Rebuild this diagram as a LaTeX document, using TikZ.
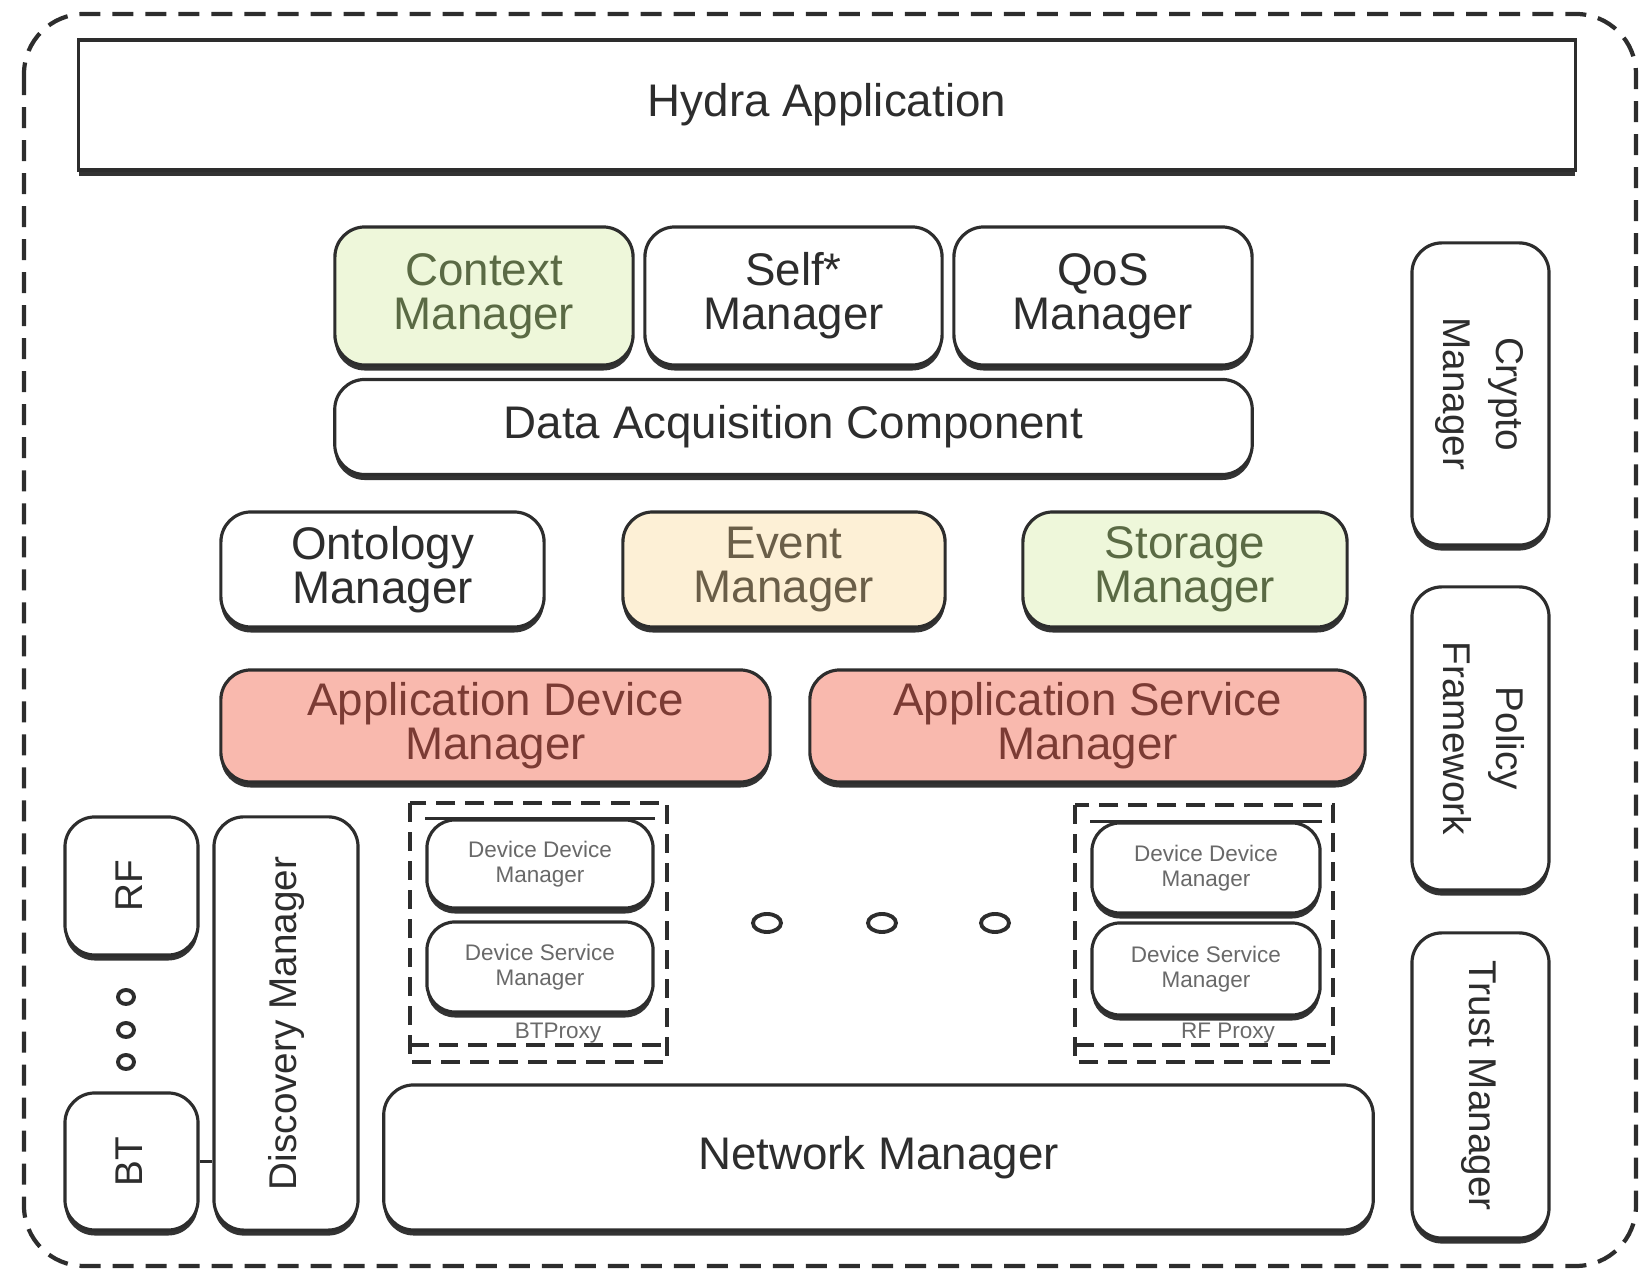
\documentclass[tikz,border=0pt]{standalone}
\usepackage{fontspec}
\setmainfont{Liberation Sans}
\usepackage{graphicx}
\usetikzlibrary{shadows}
\definecolor{ink}{RGB}{45,45,45}
\definecolor{ctxc}{RGB}{238,247,218}
\definecolor{ctxt}{RGB}{90,106,68}
\definecolor{evtc}{RGB}{253,240,214}
\definecolor{evtt}{RGB}{106,94,72}
\definecolor{appc}{RGB}{249,185,174}
\definecolor{appt}{RGB}{123,59,52}
\definecolor{pxt}{RGB}{105,105,105}
\tikzset{
  mgr/.style={draw=ink, line width=0.9pt, rounded corners=0.3cm, fill=white,
              text=ink, align=center, inner sep=1pt,
              font=\fontsize{13}{12.5}\selectfont,
              drop shadow={shadow xshift=0cm, shadow yshift=-0.055cm,
                           fill=black!80, opacity=1}},
  vmgr/.style={mgr, font=\fontsize{11}{15}\selectfont},
  small/.style={mgr, rounded corners=0.28cm, text=pxt,
                font=\fontsize{6.4}{7}\selectfont},
  ctxbox/.style={fill=ctxc, text=ctxt},
  evtbox/.style={fill=evtc, text=evtt},
  appbox/.style={fill=appc, text=appt},
  frame/.style={draw=ink, line width=1.2pt, dash pattern=on 0.21cm off 0.12cm,
                rounded corners=0.6cm},
  pxframe/.style={draw=ink, line width=1.4pt, dash pattern=on 0.19cm off 0.1cm},
  pxlbl/.style={text=pxt, font=\fontsize{6.4}{7}\selectfont, inner sep=0pt},
  dot/.style={draw=ink, line width=1.1pt},
}
\newcommand{\vtext}[2]{\rotatebox{#1}{\begin{tabular}{@{}c@{}}#2\end{tabular}}}

\begin{document}
\begin{tikzpicture}[x=0.01cm, y=-0.01cm]
  \useasboundingbox (0,0) rectangle (1650,1271);
  \draw[frame] (24,14) rectangle (1636,1266);

  \node[mgr, rounded corners=0pt, minimum width=14.96cm, minimum height=1.30cm]
    (hydra) at (827,105) {Hydra Application};

  % upper managers
  \node[mgr, ctxbox, minimum width=2.98cm, minimum height=1.38cm] (ctx) at (484,296)
    {Context\\Manager};
  \node[mgr, minimum width=2.97cm, minimum height=1.38cm] (self) at (793.5,296)
    {Self*\\Manager};
  \node[mgr, minimum width=2.98cm, minimum height=1.38cm] (qos) at (1103,296)
    {QoS\\Manager};
  \node[mgr, minimum width=9.17cm, minimum height=0.95cm] (daq) at (793.5,427)
    {Data Acquisition Component};

  % middle row
  \node[mgr, minimum width=3.23cm, minimum height=1.15cm] (onto) at (382.5,569.5)
    {Ontology\\Manager};
  \node[mgr, evtbox, minimum width=3.22cm, minimum height=1.15cm] (event) at (784,569.5)
    {Event\\Manager};
  \node[mgr, ctxbox, minimum width=3.24cm, minimum height=1.15cm] (storage) at (1185,569.5)
    {Storage\\Manager};
  \node[mgr, appbox, minimum width=5.49cm, minimum height=1.12cm] (appdev) at (495.5,726)
    {Application Device\\Manager};
  \node[mgr, appbox, minimum width=5.55cm, minimum height=1.12cm] (appsvc) at (1087.5,726)
    {Application Service\\Manager};

  % security column
  \node[vmgr, minimum width=1.37cm, minimum height=3.02cm] (crypto) at (1480.5,394)
    {\vtext{-90}{Crypto\\Manager}};
  \node[vmgr, minimum width=1.37cm, minimum height=3.03cm] (policy) at (1480.5,738.5)
    {\vtext{-90}{Policy\\Framework}};
  \node[vmgr, minimum width=1.37cm, minimum height=3.05cm] (trust) at (1480.5,1085.5)
    {\vtext{-90}{Trust Manager}};

  % network side
  \node[vmgr, minimum width=1.33cm, minimum height=1.38cm] (rf) at (131.5,886)
    {\vtext{90}{RF}};
  \node[vmgr, minimum width=1.33cm, minimum height=1.37cm] (bt) at (131.5,1161.5)
    {\vtext{90}{BT}};
  \node[vmgr, minimum width=1.44cm, minimum height=4.13cm] (disc) at (286,1023.5)
    {\vtext{90}{Discovery Manager}};
  \node[mgr, minimum width=9.89cm, minimum height=1.45cm] (net) at (878.5,1157.5)
    {Network Manager};
  \draw[ink, line width=0.9pt] (bt.east) -- (bt.east -| disc.west);
  \foreach \y in {997,1030,1062} \draw[dot] (126,\y) ellipse (0.08cm and 0.07cm);

  % proxies
  \draw[pxframe] (410,803) rectangle (667,1062);
  \draw[pxframe] (410,1045) -- (667,1045);
  \node[small, minimum width=2.26cm, minimum height=0.88cm] (ddm1) at (540,864)
    {Device Device\\Manager};
  \node[small, minimum width=2.26cm, minimum height=0.90cm] (dsm1) at (540,967)
    {Device Service\\Manager};
  \draw[ink, line width=0.9pt] (ddm1.north west) -- (ddm1.north east);
  \node[pxlbl] (btpx) at (558,1033) {BTProxy};

  \draw[pxframe] (1075,805) rectangle (1333,1062);
  \draw[pxframe] (1075,1045) -- (1333,1045);
  \node[small, minimum width=2.28cm, minimum height=0.90cm] (ddm2) at (1206,868)
    {Device Device\\Manager};
  \node[small, minimum width=2.28cm, minimum height=0.92cm] (dsm2) at (1206,969)
    {Device Service\\Manager};
  \draw[ink, line width=0.9pt] (ddm2.north west) -- (ddm2.north east);
  \node[pxlbl] (rfpx) at (1228,1033) {RF Proxy};

  \foreach \x in {767,882,995} \draw[dot] (\x,923) ellipse (0.14cm and 0.09cm);
\end{tikzpicture}
\end{document}
